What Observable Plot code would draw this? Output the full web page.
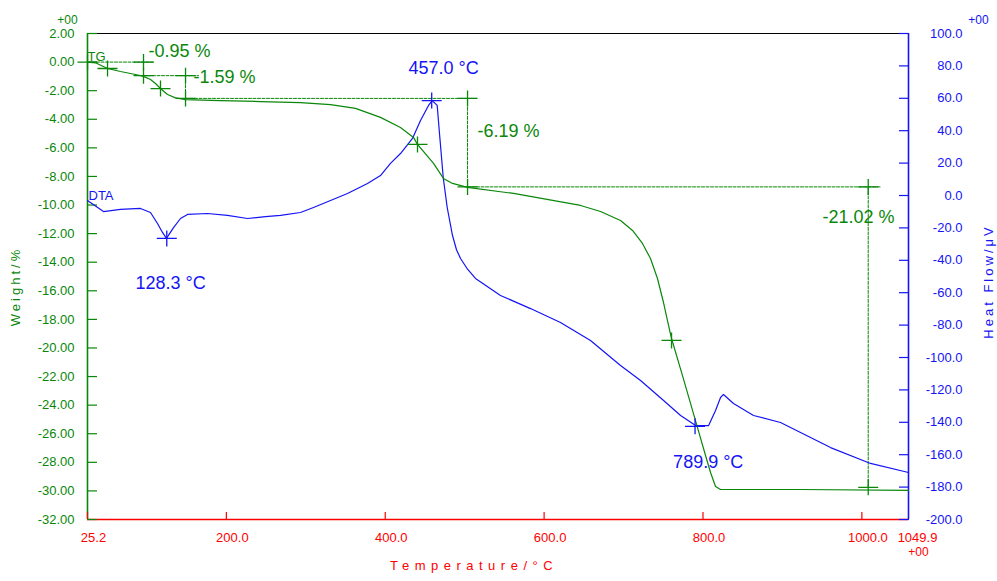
<!DOCTYPE html>
<html><head><meta charset="utf-8">
<script src="https://cdn.jsdelivr.net/npm/d3@7"></script>
<script src="https://cdn.jsdelivr.net/npm/@observablehq/plot@0.6"></script>
<style>body{margin:0;background:#fff;} svg{display:block}</style>
</head><body><div id="chart"></div>
<script>
// ---- data ----
const tgTemp = [25.2, 35.3, 50.4, 66.7, 85.6, 95.7, 104.5, 110.8, 117.1, 125.9, 136.0, 148.6, 192.6, 243.0, 293.3, 331.1, 362.6, 394.0, 419.2, 435.6, 440.6, 460.8, 473.3, 484.7, 503.6, 561.5, 645.9, 671.0, 696.2, 711.3, 723.8, 733.9, 742.7, 750.3, 755.3, 760.4, 774.2, 793.1, 803.2, 809.5, 815.8, 822.1, 922.8, 1058.7];
const tgWeight = [0.0, -0.05, -0.45, -0.66, -0.87, -1.0, -1.22, -1.5, -1.85, -2.27, -2.5, -2.62, -2.69, -2.76, -2.83, -2.97, -3.24, -3.87, -4.57, -5.27, -5.76, -7.09, -8.14, -8.49, -8.77, -9.19, -10.03, -10.45, -11.08, -11.78, -12.69, -13.74, -15.14, -16.82, -18.08, -19.34, -21.93, -25.57, -27.52, -28.71, -29.69, -29.9, -29.9, -29.96];

const dtaTemp = [25.2, 45.3, 66.7, 91.9, 104.5, 113.3, 119.6, 124.6, 133.5, 142.3, 151.1, 176.3, 201.4, 226.6, 249.3, 268.2, 293.3, 309.7, 331.1, 352.5, 377.7, 394.0, 406.6, 419.2, 434.3, 444.4, 454.5, 459.1, 465.4, 468.3, 473.0, 478.0, 484.7, 489.7, 494.8, 503.6, 513.6, 545.1, 582.9, 620.6, 658.4, 696.2, 721.4, 750.4, 771.8, 790.7, 807.1, 815.8, 822.1, 825.8, 838.4, 863.6, 897.6, 922.8, 960.6, 1010.9, 1058.7];
const dtaHeat = [-3.1, -9.9, -8.6, -8.0, -10.5, -17.3, -22.8, -26.5, -19.8, -14.2, -11.7, -11.1, -12.3, -14.2, -13.0, -12.3, -10.5, -7.4, -3.1, 1.2, 7.4, 12.3, 19.8, 25.9, 35.2, 46.3, 55.6, 58.6, 55.6, 38.3, 11.1, -7.4, -24.7, -33.5, -38.9, -45.5, -51.2, -61.7, -69.8, -78.4, -89.5, -104.9, -114.2, -126.5, -135.8, -142.0, -142.0, -132.7, -124.7, -122.8, -128.4, -135.8, -140.1, -146.3, -155.6, -165.4, -171.0];

const weightTicks = d3.range(-32, 2.001, 2);
const heatTicks = d3.range(-200, 100.001, 20);
const tempTicks = [25.2, 200, 400, 600, 800, 1000];
const tempEnd = 1049.9;
const tempDomain = [25.2, 1058.7];
const weightDomain = [-32, 2];
const heatDomain = [-200, 100];

// mass-loss step labels and DTA peak labels
const stepLabels = ["-0.95 %", "-1.59 %", "-6.19 %", "-21.02 %"];
const stepLabelT = [102.0, 158.6, 516.1, 950.4];
const stepLabelW = [0.74, -1.04, -4.82, -10.87];
const peakLabels = ["128.3 °C", "457.0 °C", "789.9 °C"];
const peakLabelT = [85.6, 429.3, 762.4];
const peakLabelH = [-54.0, 78.4, -164.8];

// crosshair markers (temperature, value)
const tgMarkT = [25.2, 50.4, 95.7, 95.7, 117.1, 148.6, 148.6, 440.6, 503.6, 503.6, 760.4, 1008, 1008];
const tgMarkW = [0, -0.45, 0, -0.95, -1.85, -0.95, -2.54, -5.76, -2.54, -8.73, -19.47, -8.73, -29.75];
const dtaMarkT = [125, 458.5, 790];
const dtaMarkH = [-26.5, 58.6, -142.5];

// dotted guide segments: [t1, w1, t2, w2]
const guides = [
  [25.2, 0, 108.3, 0],
  [95.7, -0.95, 165.0, -0.95],
  [95.7, 0, 95.7, -0.95],
  [148.6, -0.95, 148.6, -2.54],
  [148.6, -2.54, 516.1, -2.54],
  [503.6, -2.54, 503.6, -8.73],
  [503.6, -8.73, 1023.4, -8.73],
  [1008, -8.73, 1008, -29.75]
];

// ---- styling ----
const GREEN = "#0a870a", BLUE = "#1414f5", RED = "#ff0000";
const FONT = "Liberation Sans, Arial, Helvetica, sans-serif";

// heat flow (right axis) mapped onto the weight scale
const h2w = h => weightDomain[0] + (h - heatDomain[0]) * (weightDomain[1] - weightDomain[0]) / (heatDomain[1] - heatDomain[0]);

const tg = tgTemp.map((t, i) => ({t, w: tgWeight[i]}));
const dta = dtaTemp.map((t, i) => ({t, h: dtaHeat[i]}));
const guideData = guides.flatMap((g, i) => [{id: i, t: g[0], w: g[1]}, {id: i, t: g[2], w: g[3]}]);
const tgMarks = tgMarkT.map((t, i) => ({t, w: tgMarkW[i]}));
const dtaMarks = dtaMarkT.map((t, i) => ({t, h: dtaMarkH[i]}));
const stepText = stepLabels.map((s, i) => ({s, t: stepLabelT[i], w: stepLabelW[i]}));
const peakText = peakLabels.map((s, i) => ({s, t: peakLabelT[i], h: peakLabelH[i]}));

const cross = {
  draw(ctx, size) {
    const r = Math.sqrt(size / Math.PI);
    ctx.moveTo(-r, 0); ctx.lineTo(r, 0);
    ctx.moveTo(0, -r * 0.8); ctx.lineTo(0, r * 0.8);
  }
};

const chart = Plot.plot({
  width: 997,
  height: 581,
  marginLeft: 87,
  marginRight: 89,
  marginTop: 33,
  marginBottom: 62,
  style: {fontFamily: FONT, fontSize: "13px", background: "#fff"},
  x: {domain: tempDomain},
  y: {domain: weightDomain},
  marks: [
    // frame sides
    Plot.ruleY([weightDomain[1]], {stroke: "#000", strokeWidth: 1.2}),
    Plot.ruleY([weightDomain[0]], {stroke: RED, strokeWidth: 1.4}),
    Plot.ruleX([tempDomain[0]], {stroke: GREEN, strokeWidth: 1.6}),
    Plot.ruleX([tempDomain[1]], {stroke: BLUE, strokeWidth: 1.6}),
    // left axis
    Plot.axisY(weightTicks, {anchor: "left", tickSize: 10, dx: 10, tickFormat: () => "", stroke: GREEN, strokeWidth: 1.2, label: null}),
    Plot.axisY(weightTicks, {anchor: "left", tickSize: 0, tickPadding: 13, tickFormat: d => d.toFixed(2), fill: GREEN, fontSize: 13, label: null}),
    // right axis
    Plot.axisY(heatTicks.map(h2w), {anchor: "right", tickSize: 10, dx: -10, tickFormat: () => "", stroke: BLUE, strokeWidth: 1.2, label: null}),
    Plot.text(heatTicks, {y: d => h2w(d), text: d => d.toFixed(1), frameAnchor: "right", dx: 54, textAnchor: "end", fill: BLUE, fontSize: 13}),
    // bottom axis
    Plot.axisX(tempTicks, {anchor: "bottom", tickSize: 7, dy: -7, tickFormat: () => "", stroke: RED, strokeWidth: 1.2, label: null}),
    Plot.axisX(tempTicks, {anchor: "bottom", tickSize: 0, tickPadding: 13, dx: 6, tickFormat: d => d.toFixed(1), fill: RED, fontSize: 13, label: null}),
    Plot.text([tempEnd], {frameAnchor: "bottom-right", text: d => d.toFixed(1), dx: 9, dy: 13, lineAnchor: "top", textAnchor: "middle", fill: RED, fontSize: 13}),
    // exponent markers
    Plot.text(["+00"], {frameAnchor: "top-left", dx: -20, dy: -18, textAnchor: "middle", fill: GREEN, fontSize: 12}),
    Plot.text(["+00"], {frameAnchor: "top-right", dx: 70, dy: -18, textAnchor: "middle", fill: BLUE, fontSize: 12}),
    Plot.text(["+00"], {frameAnchor: "bottom-right", dx: 10, dy: 36, textAnchor: "middle", fill: RED, fontSize: 12}),
    // axis titles
    Plot.text(["Weight/%"], {frameAnchor: "left", dx: -72, dy: 10, rotate: -90, textAnchor: "middle", fill: GREEN, fontSize: 13}),
    Plot.text(["Heat Flow/μV"], {frameAnchor: "right", dx: 80, dy: 5, rotate: -90, textAnchor: "middle", fill: BLUE, fontSize: 13}),
    Plot.text(["Temperature/°C"], {frameAnchor: "bottom", dx: -24, dy: 50, textAnchor: "middle", fill: RED, fontSize: 13}),
    // guides
    Plot.line(guideData, {x: "t", y: "w", z: "id", stroke: GREEN, strokeWidth: 1, strokeDasharray: "3,1.5"}),
    // curves
    Plot.line(dta, {x: "t", y: d => h2w(d.h), stroke: BLUE, strokeWidth: 1.2}),
    Plot.line(tg, {x: "t", y: "w", stroke: GREEN, strokeWidth: 1.2}),
    // markers
    Plot.dot(tgMarks, {x: "t", y: "w", symbol: cross, r: 10, stroke: GREEN, fill: "none", strokeWidth: 1.3}),
    Plot.dot(dtaMarks, {x: "t", y: d => h2w(d.h), symbol: cross, r: 10, stroke: BLUE, fill: "none", strokeWidth: 1.3}),
    // curve labels
    Plot.text(["TG"], {x: tempDomain[0], y: 0.36, textAnchor: "start", fill: GREEN, fontSize: 13}),
    Plot.text(["DTA"], {x: tempDomain[0], y: h2w(0), dx: 1, textAnchor: "start", fill: BLUE, fontSize: 13}),
    // annotations
    Plot.text(stepText, {x: "t", y: "w", text: "s", textAnchor: "start", fill: GREEN, fontSize: 18}),
    Plot.text(peakText, {x: "t", y: d => h2w(d.h), text: "s", textAnchor: "start", fill: BLUE, fontSize: 18})
  ]
});

const svg = d3.select(chart);
svg.selectAll("text").filter(function() { return this.textContent === "Weight/%" || this.textContent === "Heat Flow/μV"; }).attr("letter-spacing", "3px");
svg.selectAll("text").filter(function() { return this.textContent === "Temperature/°C"; }).attr("letter-spacing", "5.5px");
document.getElementById("chart").append(chart);
</script>
</body></html>
